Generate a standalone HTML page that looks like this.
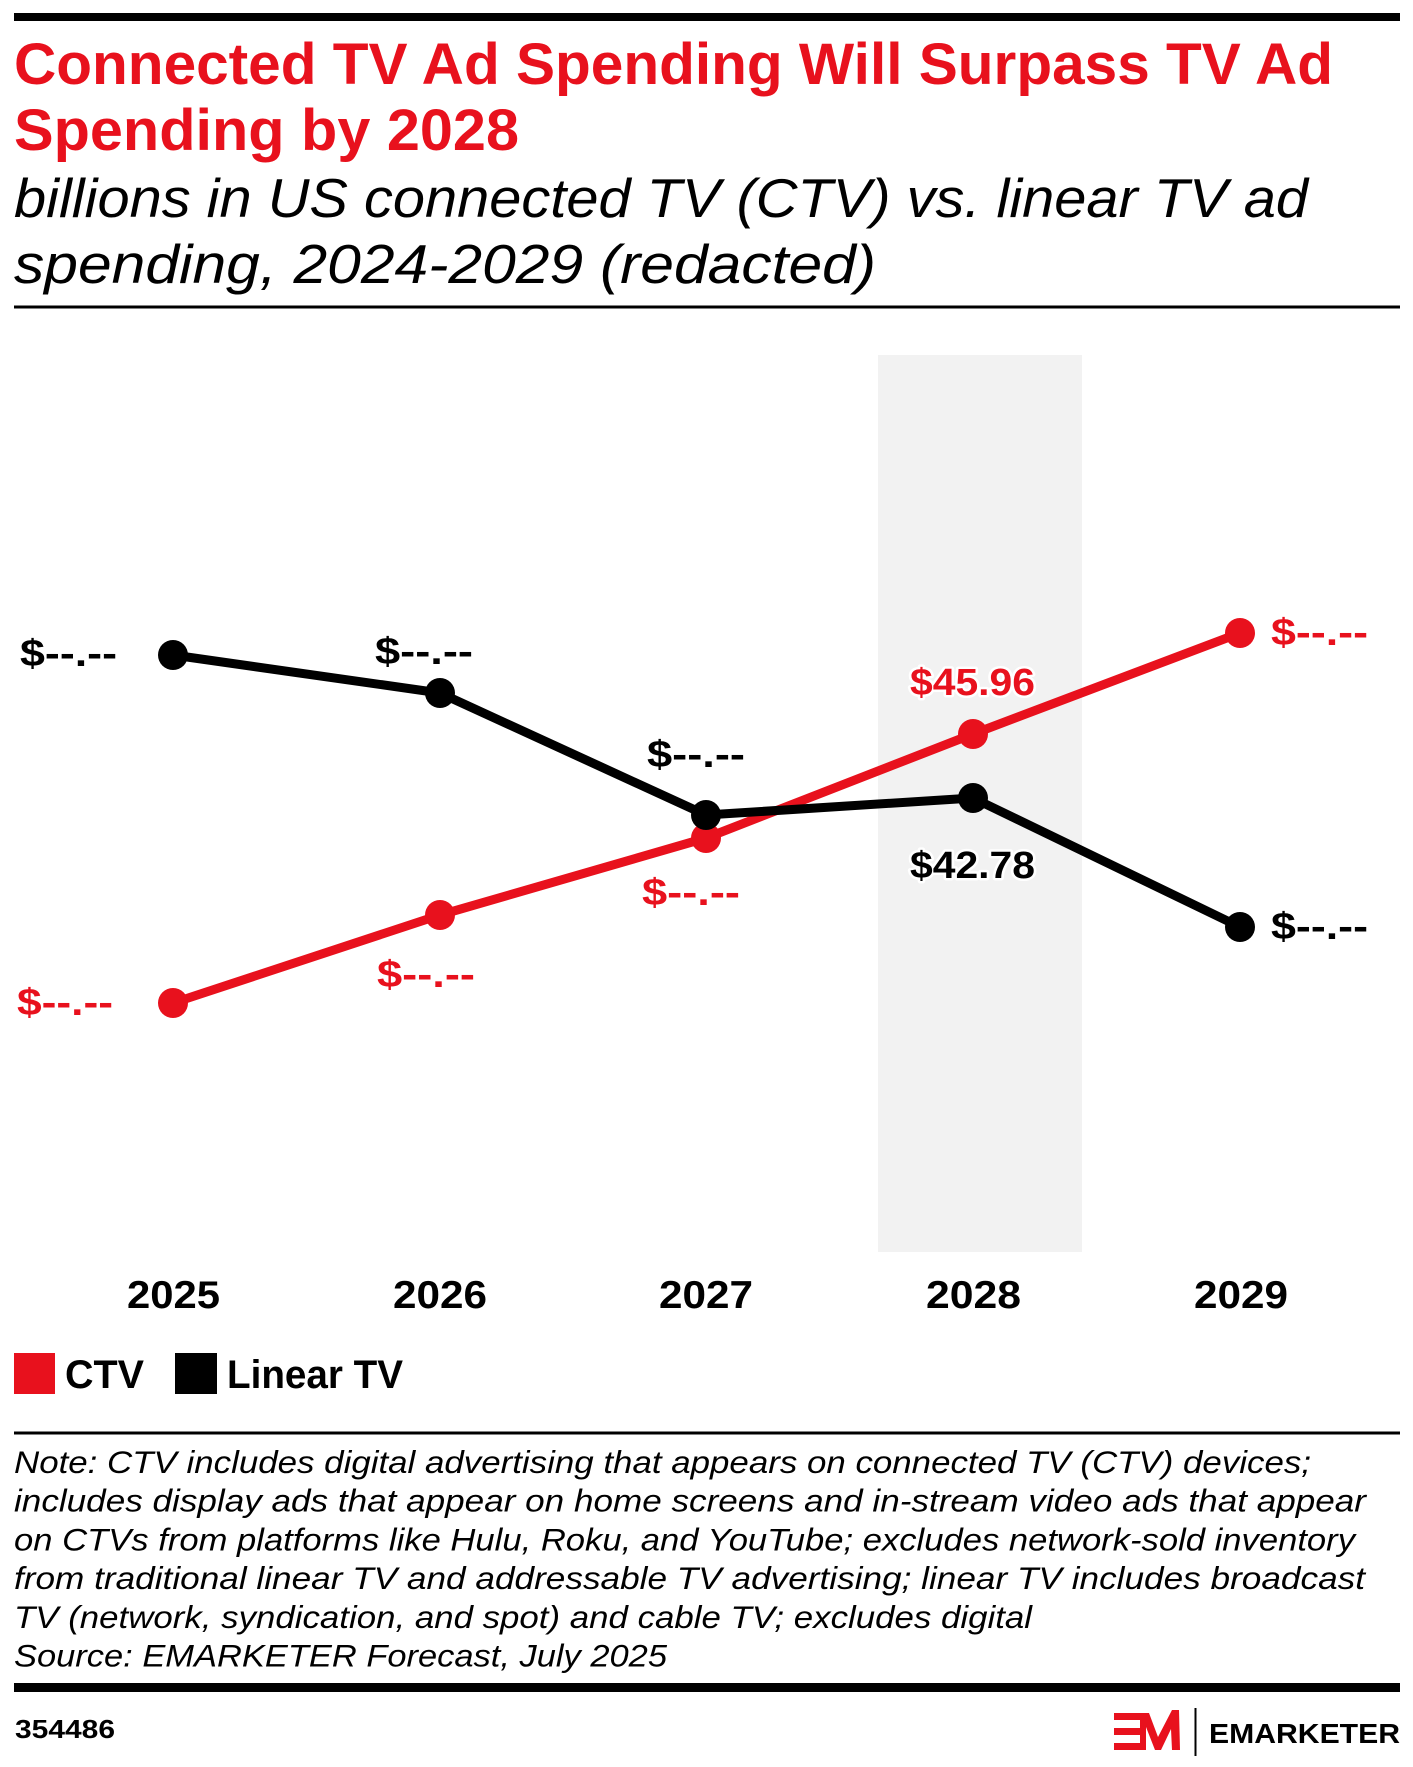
<!DOCTYPE html>
<html>
<head>
<meta charset="utf-8">
<style>
  html, body { margin: 0; padding: 0; background: #fff; }
  svg { display: block; }
  text { font-family: "Liberation Sans", "DejaVu Sans", sans-serif; }
  .b { font-weight: bold; }
  .i { font-style: italic; }
  .halo { paint-order: stroke; stroke: #fff; stroke-width: 5px; stroke-linejoin: round; }
</style>
</head>
<body>
<svg width="1413" height="1767" viewBox="0 0 1413 1767" xmlns="http://www.w3.org/2000/svg">
  <rect x="0" y="0" width="1413" height="1767" fill="#fff"/>

  <!-- top rule -->
  <rect x="14" y="13" width="1386" height="8" fill="#000"/>

  <!-- title -->
  <text class="b" x="14" y="84" font-size="58" fill="#e8111d" textLength="1319" lengthAdjust="spacingAndGlyphs">Connected TV Ad Spending Will Surpass TV Ad</text>
  <text class="b" x="14" y="150" font-size="58" fill="#e8111d" textLength="505" lengthAdjust="spacingAndGlyphs">Spending by 2028</text>

  <!-- subtitle -->
  <text class="i" x="14" y="217" font-size="55" fill="#000" textLength="1294" lengthAdjust="spacingAndGlyphs">billions in US connected TV (CTV) vs. linear TV ad</text>
  <text class="i" x="14" y="283" font-size="55" fill="#000" textLength="862" lengthAdjust="spacingAndGlyphs">spending, 2024-2029 (redacted)</text>

  <!-- rule under subtitle -->
  <rect x="14" y="305.5" width="1386" height="3" fill="#000"/>

  <!-- shaded 2028 column -->
  <rect x="878" y="355" width="204" height="897" fill="#f2f2f2"/>

  <!-- CTV series -->
  <polyline points="173,1003 440,915 706,838 973,734 1240,633" fill="none" stroke="#e8111d" stroke-width="9" stroke-linejoin="round"/>
  <g fill="#e8111d">
    <circle cx="173" cy="1003" r="15"/>
    <circle cx="440" cy="915" r="15"/>
    <circle cx="706" cy="838" r="15"/>
    <circle cx="973" cy="734" r="15"/>
    <circle cx="1240" cy="633" r="15"/>
  </g>

  <!-- Linear TV series -->
  <polyline points="173,655 440,693 706,815 973,798 1240,927" fill="none" stroke="#000" stroke-width="9" stroke-linejoin="round"/>
  <g fill="#000">
    <circle cx="173" cy="655" r="15"/>
    <circle cx="440" cy="693" r="15"/>
    <circle cx="706" cy="815" r="15"/>
    <circle cx="973" cy="798" r="15"/>
    <circle cx="1240" cy="927" r="15"/>
  </g>

  <!-- data labels: Linear TV (black) -->
  <g class="b halo" font-size="38" fill="#000">
    <text x="20" y="666" textLength="97" lengthAdjust="spacingAndGlyphs">$--.--</text>
    <text x="375" y="664" textLength="98" lengthAdjust="spacingAndGlyphs">$--.--</text>
    <text x="647" y="767" textLength="98" lengthAdjust="spacingAndGlyphs">$--.--</text>
    <text x="910" y="878" textLength="125" lengthAdjust="spacingAndGlyphs">$42.78</text>
    <text x="1271" y="939" textLength="97" lengthAdjust="spacingAndGlyphs">$--.--</text>
  </g>

  <!-- data labels: CTV (red) -->
  <g class="b halo" font-size="38" fill="#e8111d">
    <text x="17" y="1015" textLength="96" lengthAdjust="spacingAndGlyphs">$--.--</text>
    <text x="377" y="987" textLength="98" lengthAdjust="spacingAndGlyphs">$--.--</text>
    <text x="642" y="905" textLength="98" lengthAdjust="spacingAndGlyphs">$--.--</text>
    <text x="910" y="695" textLength="125" lengthAdjust="spacingAndGlyphs">$45.96</text>
    <text x="1271" y="645" textLength="97" lengthAdjust="spacingAndGlyphs">$--.--</text>
  </g>

  <!-- x axis labels -->
  <g class="b" font-size="39" fill="#000">
    <text x="127" y="1308" textLength="93" lengthAdjust="spacingAndGlyphs">2025</text>
    <text x="393" y="1308" textLength="94" lengthAdjust="spacingAndGlyphs">2026</text>
    <text x="659" y="1308" textLength="94" lengthAdjust="spacingAndGlyphs">2027</text>
    <text x="926" y="1308" textLength="95" lengthAdjust="spacingAndGlyphs">2028</text>
    <text x="1194" y="1308" textLength="94" lengthAdjust="spacingAndGlyphs">2029</text>
  </g>

  <!-- legend -->
  <rect x="14" y="1353" width="41" height="41" fill="#e8111d"/>
  <text class="b" x="65" y="1388" font-size="40" fill="#000" textLength="79" lengthAdjust="spacingAndGlyphs">CTV</text>
  <rect x="175" y="1353" width="42" height="41" fill="#000"/>
  <text class="b" x="227" y="1388" font-size="40" fill="#000" textLength="176" lengthAdjust="spacingAndGlyphs">Linear TV</text>

  <!-- rule under legend -->
  <rect x="14" y="1431.5" width="1386" height="3" fill="#000"/>

  <!-- note -->
  <g class="i" font-size="31.5" fill="#000">
    <text x="14" y="1473" textLength="1297" lengthAdjust="spacingAndGlyphs">Note: CTV includes digital advertising that appears on connected TV (CTV) devices;</text>
    <text x="14" y="1511.5" textLength="1352" lengthAdjust="spacingAndGlyphs">includes display ads that appear on home screens and in-stream video ads that appear</text>
    <text x="14" y="1550.3" textLength="1341" lengthAdjust="spacingAndGlyphs">on CTVs from platforms like Hulu, Roku, and YouTube; excludes network-sold inventory</text>
    <text x="14" y="1589" textLength="1351" lengthAdjust="spacingAndGlyphs">from traditional linear TV and addressable TV advertising; linear TV includes broadcast</text>
    <text x="14" y="1627.8" textLength="1018" lengthAdjust="spacingAndGlyphs">TV (network, syndication, and spot) and cable TV; excludes digital</text>
    <text x="14" y="1666.7" textLength="653" lengthAdjust="spacingAndGlyphs">Source: EMARKETER Forecast, July 2025</text>
  </g>

  <!-- bottom thick rule -->
  <rect x="14" y="1683" width="1386" height="9" fill="#000"/>

  <!-- footer id -->
  <text class="b" x="15" y="1738" font-size="26" fill="#000" textLength="100" lengthAdjust="spacingAndGlyphs">354486</text>

  <!-- EM logo -->
  <g fill="#e8111d">
    <rect x="1114" y="1713" width="30" height="7"/>
    <rect x="1114" y="1728" width="26" height="7"/>
    <rect x="1114" y="1743" width="30" height="7"/>
    <polygon points="1140,1713 1149,1713 1158,1737 1172,1710 1179,1710 1180,1750 1172,1750 1171,1729 1161,1750 1155,1750 1146,1727 1146,1750 1140,1750"/>
  </g>
  <rect x="1194.5" y="1708" width="2" height="48" fill="#000"/>
  <text class="b" x="1209" y="1743" font-size="28" fill="#000" textLength="191" lengthAdjust="spacingAndGlyphs">EMARKETER</text>
</svg>
</body>
</html>
